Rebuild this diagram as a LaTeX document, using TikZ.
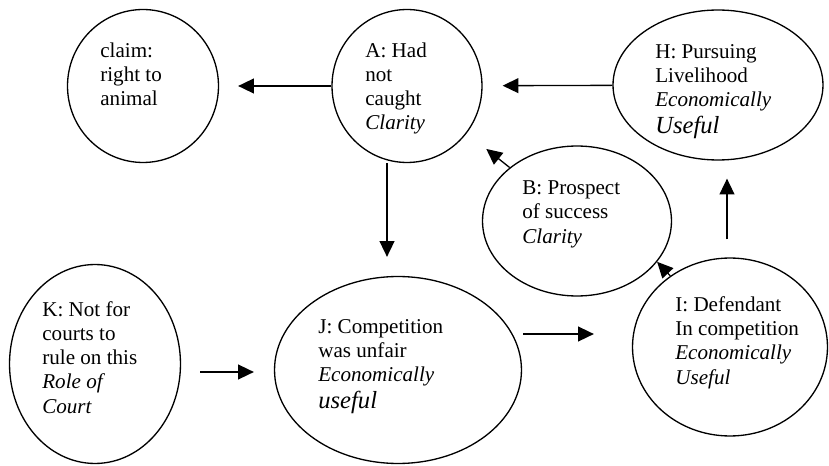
\documentclass[tikz,border=0pt]{standalone}
\usepackage{fontspec}
\setmainfont{Liberation Serif}
\usetikzlibrary{shapes.geometric,arrows.meta}

\begin{document}
\begin{tikzpicture}[x=0.02cm,y=-0.02cm,
  blob/.style 2 args={draw,ellipse,line width=0.75pt,inner sep=0pt,minimum width=#1,minimum height=#2},
  txt/.style={anchor=base west,align=left,inner sep=0pt,font=\fontsize{12}{13.8}\selectfont},
  arr/.style={line width=0.75pt,-{Triangle[length=9pt,width=8.5pt]}}]
\useasboundingbox(0,0)rectangle(829,466);
% the ovals
\node[blob={3.02cm}{3.06cm}](claim)at(143,86){};
\node[blob={3.0cm}{3.06cm}](A)at(407,86){};
\node[blob={4.2cm}{3.0cm}](H)at(718,85){};
\node[blob={3.78cm}{3.0cm}](B)at(577,221){};
\node[blob={3.9cm}{3.56cm}](I)at(730,347){};
\node[blob={4.94cm}{3.74cm}](J)at(398,370){};
\node[blob={3.42cm}{3.98cm}](K)at(95,364){};
% the texts (placed at the baseline of their last line)
\node[txt](claimtext)at(100,106){claim:\\right to\\animal};
\node[txt](Atext)at(365,130){A: Had\\not\\caught\\\textit{Clarity}};
\node[txt](Htext)at(655,133){H: Pursuing\\Livelihood\\\textit{Economically}\\[1pt]{\fontsize{14}{16}\selectfont\itshape Useful}};
\node[txt](Btext)at(522,243){B: Prospect\\of success\\\textit{Clarity}};
\node[txt](Itext)at(675,384){I: Defendant\\In competition\\\textit{Economically}\\\textit{Useful}};
\node[txt](Jtext)at(318,408){J: Competition\\was unfair\\\textit{Economically}\\[1pt]{\fontsize{14}{16}\selectfont\itshape useful}};
\node[txt](Ktext)at(42,413){K: Not for\\courts to\\rule on this\\\textit{Role of}\\\textit{Court}};
% the arrows
\draw[arr,shorten >=0.38cm](A)--(claim);
\draw[arr,shorten >=0.4cm](H)--(A);
\draw[arr,shorten >=0.5cm](B)--(A);
\draw[arr,shorten >=0.38cm]([xshift=-0.4cm]A.south)--([xshift=-0.4cm]A.south|-J.north);
\draw[arr,shorten <=0.36cm,shorten >=0.36cm]([xshift=-0.06cm]I.north)--([xshift=-0.06cm]I.north|-H.south);
\draw[arr](I.130)--(B.-27);
\draw[arr,shorten <=0.38cm,shorten >=0.4cm]([yshift=-0.16cm]K.east)--([yshift=-0.16cm]K.east-|J.west);
\draw[arr,shorten <=0.02cm,shorten >=0.76cm]([yshift=0.72cm]J.east)--([yshift=0.72cm]J.east-|I.west);
\end{tikzpicture}
\end{document}
